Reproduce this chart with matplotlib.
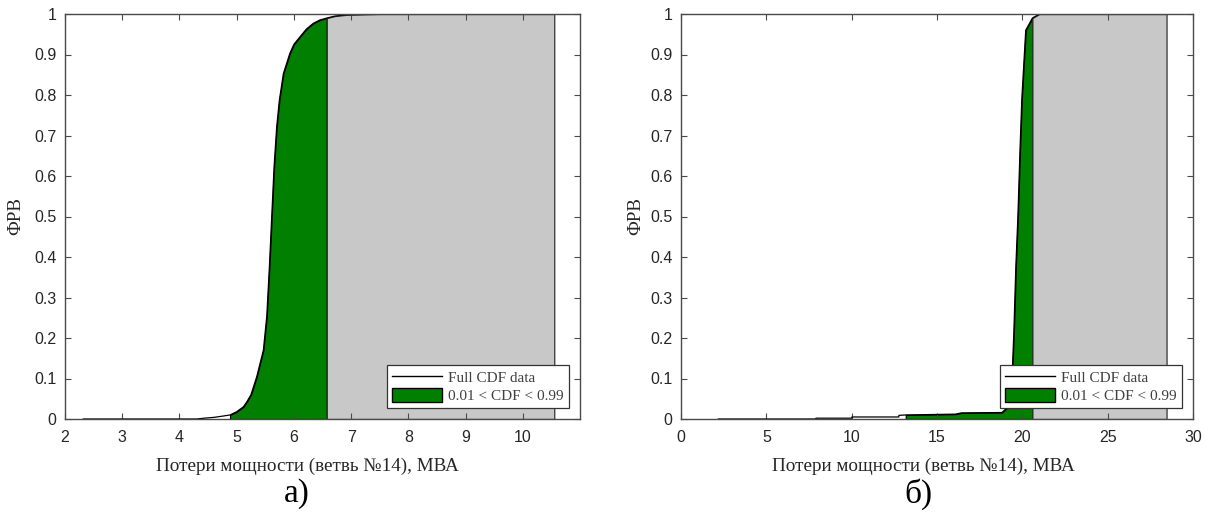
import numpy as np
import matplotlib
matplotlib.use("Agg")
import matplotlib.pyplot as plt
from matplotlib.lines import Line2D
from matplotlib.patches import Patch

# Данные: панель а)
loss_a = [2.32, 4.30, 4.43, 4.60, 4.75, 4.885, 5.00, 5.117, 5.18, 5.25, 5.35, 5.467, 5.526,
          5.572, 5.613, 5.654, 5.70, 5.747, 5.817, 5.93, 6.00, 6.108, 6.22, 6.34, 6.45, 6.575,
          6.72, 6.92, 7.50, 10.55]
cdf_a = [0.0, 0.0, 0.002, 0.004, 0.007, 0.01, 0.018, 0.030, 0.043, 0.06, 0.104, 0.170, 0.253,
         0.376, 0.50, 0.623, 0.722, 0.788, 0.853, 0.903, 0.925, 0.944, 0.963, 0.977, 0.985, 0.99,
         0.995, 0.998, 1.0, 1.0]

# Данные: панель б)
loss_b = [2.19, 7.90, 7.91, 10.0, 10.02, 12.76, 12.77, 13.17, 16.08, 16.42, 18.8, 19.17, 19.39,
          19.5, 19.62, 19.74, 19.86, 19.97, 20.2, 20.59, 21.0, 28.45]
cdf_b = [0.0, 0.0, 0.002, 0.002, 0.005, 0.005, 0.009, 0.01, 0.012, 0.015, 0.016, 0.03, 0.096,
         0.21, 0.376, 0.5, 0.66, 0.79, 0.96, 0.99, 1.0, 1.0]

yticks = [0, 0.1, 0.2, 0.3, 0.4, 0.5, 0.6, 0.7, 0.8, 0.9, 1]
ytick_labels = ['0', '0.1', '0.2', '0.3', '0.4', '0.5', '0.6', '0.7', '0.8', '0.9', '1']
xticks_a = [2, 3, 4, 5, 6, 7, 8, 9, 10]
xticks_b = [0, 5, 10, 15, 20, 25, 30]
xlim_a = (2, 11)
xlim_b = (0, 30)
lo_a, hi_a = 4.885, 6.575
lo_b, hi_b = 13.17, 20.59

xlabel = 'Потери мощности (ветвь №14), МВА'
ylabel = 'ФРВ'
serif = ['Liberation Serif', 'DejaVu Serif']
sans = ['Liberation Sans', 'DejaVu Sans']

green = '#007f00'
gray = '#c8c8c8'
spine_col = '#4a4a4a'


def draw_panel(ax, x, y, lo, hi, xlim, xticks, lab_x, ylab_x):
    x = np.array(x)
    y = np.array(y)
    m_green = (x >= lo) & (x <= hi)
    m_gray = x >= hi
    ax.fill_between(x[m_green], y[m_green], 0, facecolor=green, edgecolor='black', linewidth=0.9)
    ax.fill_between(x[m_gray], y[m_gray], 0, facecolor=gray, edgecolor='#333333', linewidth=0.9)
    ax.plot(x, y, color='black', linewidth=0.9)

    ax.set_xlim(*xlim)
    ax.set_ylim(0, 1)
    ax.set_xticks(xticks)
    ax.set_xticklabels([str(t) for t in xticks], family=sans, fontsize=11.5, color='#262626')
    ax.set_yticks(yticks)
    ax.set_yticklabels(ytick_labels, family=sans, fontsize=11.5, color='#262626')
    ax.tick_params(direction='in', top=True, right=True, length=4, width=0.8, color=spine_col)
    ax.tick_params(axis='x', pad=8)
    ax.tick_params(axis='y', pad=6)
    for s in ax.spines.values():
        s.set_color(spine_col)
        s.set_linewidth(1.0)

    ax.set_xlabel(xlabel, family=serif, fontsize=13.8, color='#262626')
    ax.xaxis.set_label_coords(lab_x, -0.095)
    ax.set_ylabel(ylabel, family=serif, fontsize=13.5, color='#262626')
    ax.yaxis.set_label_coords(ylab_x, 0.5)

    handles = [Line2D([0], [0], color='black', linewidth=1.0),
               Patch(facecolor=green, edgecolor='black', linewidth=1.0)]
    leg = ax.legend(handles, ['Full CDF data', '0.01 < CDF < 0.99'], loc='lower right',
                    prop={'family': serif, 'size': 11}, fancybox=False, framealpha=1,
                    edgecolor='#333333', borderaxespad=0.75, handlelength=3.3,
                    handleheight=1.0, handletextpad=0.4, borderpad=0.3, labelspacing=0.2)
    leg.get_frame().set_linewidth(0.9)
    for t in leg.get_texts():
        t.set_color('#404040')


fig = plt.figure(figsize=(12.12, 5.13), dpi=100)
ax1 = fig.add_axes([65 / 1212, 94 / 513, 515 / 1212, 405 / 513])
ax2 = fig.add_axes([681 / 1212, 94 / 513, 512 / 1212, 405 / 513])

draw_panel(ax1, loss_a, cdf_a, lo_a, hi_a, xlim_a, xticks_a, 0.47, -0.08)
draw_panel(ax2, loss_b, cdf_b, lo_b, hi_b, xlim_b, xticks_b, 0.474, -0.072)

fig.text(297 / 1212, 1 - 494 / 513, 'а)', family=serif, fontsize=24, ha='center', va='center')
fig.text(918 / 1212, 1 - 494 / 513, 'б)', family=serif, fontsize=24, ha='center', va='center')

fig.savefig('out.png', dpi=100)
